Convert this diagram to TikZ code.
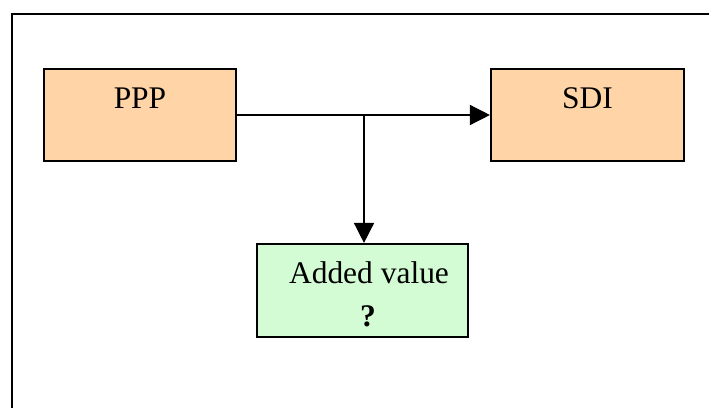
\documentclass[tikz,border=0pt]{standalone}
\usepackage{fontspec}
\setmainfont{Liberation Serif}
\usetikzlibrary{arrows.meta}
\definecolor{boxorange}{RGB}{255,213,168}
\definecolor{boxgreen}{RGB}{212,252,212}
\tikzset{
  box/.style={draw=black, line width=1.6pt, rectangle, inner sep=0pt},
  lbl/.style={inner sep=0pt, anchor=base, font=\fontsize{23.6pt}{30pt}\selectfont},
  conn/.style={line width=1.1pt, -{Triangle[length=15pt,width=15pt]}},
  frame/.style={line width=1.6pt}
}
\begin{document}
\begin{tikzpicture}[x=0.75pt,y=-0.75pt]
\useasboundingbox (0,0) rectangle (709,407);
% outer frame
\coordinate (fbl) at (12,408);
\coordinate (ftl) at (12,14);
\coordinate (ftr) at (710,14);
\draw[frame] (fbl) -- (ftl) -- (ftr);
% boxes
\node[box, fill=boxorange, minimum width=192*0.75pt, minimum height=92*0.75pt] (ppp) at (140,115) {};
\node[box, fill=boxorange, minimum width=193*0.75pt, minimum height=92*0.75pt] (sdi) at (587.5,115) {};
\node[box, fill=boxgreen, minimum width=211*0.75pt, minimum height=93*0.75pt] (added) at (362.5,290.5) {};
% texts
\node[lbl] (ppptxt) at (140,108) {PPP};
\node[lbl] (sditxt) at (587.5,108) {SDI};
\node[lbl] (addtxt) at (369,283) {Added value};
\node[lbl, font=\fontsize{23.6pt}{30pt}\selectfont\bfseries] (qmark) at (368,326) {?};
% connectors
\draw[conn] (ppp.east) -- (sdi.west);
\coordinate (split) at (364,115);
\draw[conn] (split) -- (split |- added.north);
\end{tikzpicture}
\end{document}
